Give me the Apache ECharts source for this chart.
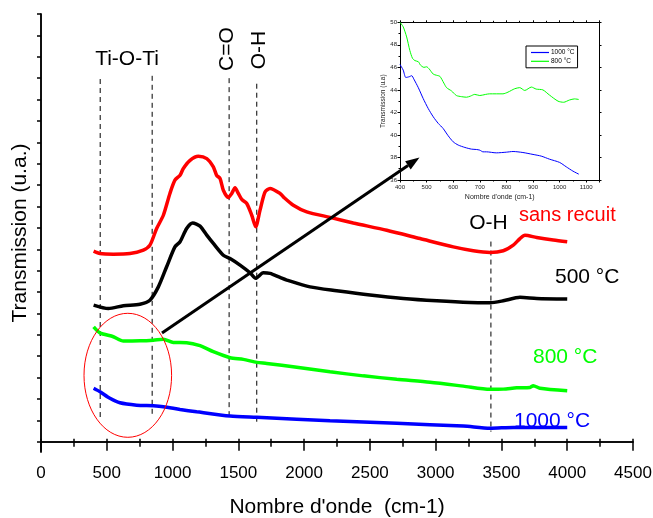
<!DOCTYPE html>
<html>
<head>
<meta charset="utf-8">
<script src="https://cdn.jsdelivr.net/npm/echarts@6/dist/echarts.min.js"></script>
<style>
  html, body { margin: 0; padding: 0; background: #fff; }
  #main { width: 653px; height: 518px; }
</style>
</head>
<body>
<div id="main"></div>
<script>
// spectres FTIR (valeurs en u.a., décalées verticalement)
const sansRecuit = [[400,8.91],[448,8.80],[550,8.77],[676,8.80],[778,8.96],[828,9.19],[879,9.97],[930,10.59],[980,11.61],[1018,12.23],[1057,12.46],[1082,12.78],[1133,13.16],[1196,13.35],[1260,13.24],[1310,12.85],[1335,12.46],[1361,12.31],[1386,11.76],[1424,11.42],[1450,11.61],[1475,11.87],[1500,11.61],[1526,11.33],[1564,11.14],[1602,10.59],[1632,10.05],[1665,10.83],[1703,11.68],[1741,11.84],[1817,11.61],[1842,11.45],[1918,11.06],[2020,10.75],[2197,10.49],[2374,10.23],[2628,9.89],[2881,9.50],[3134,9.11],[3286,8.93],[3413,8.85],[3514,8.93],[3590,9.19],[3641,9.50],[3679,9.66],[3768,9.55],[3894,9.43],[4000,9.35]];
const recuit500 = [[400,6.39],[512,6.23],[626,6.36],[752,6.43],[828,6.62],[892,7.24],[955,8.18],[1018,9.11],[1057,9.35],[1107,9.97],[1153,10.23],[1209,10.08],[1260,9.66],[1310,9.27],[1386,8.72],[1437,8.57],[1513,8.26],[1589,7.90],[1632,7.64],[1690,7.90],[1741,7.87],[1817,7.68],[1868,7.56],[2045,7.24],[2248,7.06],[2501,6.86],[2754,6.70],[3008,6.59],[3261,6.51],[3413,6.50],[3514,6.59],[3641,6.75],[3768,6.70],[4000,6.67]];
const recuit800 = [[400,5.37],[448,5.09],[550,4.91],[626,4.71],[752,4.72],[854,4.75],[930,4.79],[1006,4.64],[1107,4.63],[1209,4.49],[1310,4.21],[1437,3.93],[1538,3.85],[1640,3.71],[1716,3.66],[1944,3.48],[2197,3.27],[2450,3.08],[2704,2.92],[2957,2.78],[3210,2.60],[3413,2.45],[3514,2.46],[3616,2.52],[3717,2.54],[3742,2.62],[3793,2.50],[4000,2.38]];
const recuit1000 = [[400,2.50],[448,2.34],[524,2.03],[600,1.82],[727,1.71],[854,1.68],[930,1.64],[1057,1.51],[1183,1.40],[1437,1.20],[1640,1.14],[1944,1.05],[2197,0.98],[2704,0.86],[3210,0.73],[3413,0.63],[3590,0.67],[4000,0.67]];

// zoom 400-1100 cm-1
const zoom800 = [[400,50.0],[412,49.6],[425,48.7],[437,47.5],[447,46.8],[456,46.6],[469,46.5],[477,46.2],[490,46.0],[500,46.05],[510,45.85],[525,45.4],[537,45.3],[550,45.2],[565,44.6],[575,44.2],[594,43.9],[612,43.5],[631,43.4],[650,43.35],[665,43.45],[681,43.6],[700,43.5],[722,43.6],[737,43.65],[787,43.65],[806,43.8],[831,44.1],[850,44.2],[869,43.95],[894,44.25],[912,44.07],[937,44.0],[962,43.54],[994,43.0],[1015,42.9],[1037,43.1],[1056,43.2],[1072,43.15]];
const zoom1000 = [[400,46.26],[412,45.76],[422,45.1],[435,45.17],[444,45.26],[452,44.96],[469,44.19],[487,43.24],[506,42.35],[525,41.61],[544,41.02],[562,40.58],[581,39.93],[600,39.39],[619,39.1],[644,38.89],[669,38.74],[687,38.71],[700,38.65],[712,38.5],[725,38.5],[762,38.41],[800,38.47],[825,38.53],[862,38.44],[900,38.27],[931,38.12],[962,37.85],[1000,37.56],[1025,37.17],[1050,36.79],[1072,36.52]];

// bandes (position, haut, bas)
const bandes = [[450,16.96,1.10],[845,17.11,1.25],[1430,17.0,1.14],[1640,16.74,0.86],[3420,9.36,0.47]];
const yTicks = [0,1,2,3,4,5,6,7,8,9,10,11,12,13,14,15,16,17,18,19,20];

const font = 'Liberation Sans, Arial, sans-serif';
const black = '#000';
const plain = v => String(v);

const chart = echarts.init(document.getElementById('main'));

function curve(name, data, color, width, xi, yi) {
  return {
    name: name,
    type: 'line',
    xAxisIndex: xi,
    yAxisIndex: yi,
    data: data,
    symbol: 'none',
    smooth: 0.25,
    lineStyle: { color: color, width: width },
    itemStyle: { color: color },
    z: 3
  };
}

const series = [
  curve('sans recuit', sansRecuit, '#ff0000', 3.5, 0, 0),
  curve('500', recuit500, '#000000', 3.5, 0, 0),
  curve('800', recuit800, '#00ff00', 3.5, 0, 0),
  curve('1000', recuit1000, '#0000ff', 3.5, 0, 0),
  curve('1000 °C', zoom1000, '#0000ff', 1, 2, 2),
  curve('800 °C', zoom800, '#00ff00', 1, 2, 2)
];
bandes.forEach(b => {
  series.push({
    type: 'line',
    xAxisIndex: 0,
    yAxisIndex: 0,
    data: [[b[0], b[1]], [b[0], b[2]]],
    symbol: 'none',
    silent: true,
    lineStyle: { color: black, width: 1, type: [5, 4] },
    z: 2
  });
});

const option = {
  animation: false,
  backgroundColor: '#fff',
  textStyle: { fontFamily: font, color: black },
  grid: [
    { left: 41, right: 20, top: 14, bottom: 66, outerBoundsMode: 'none' },
    { left: 400, right: 53.5, top: 22.3, bottom: 338, outerBoundsMode: 'none' }
  ],
  legend: {
    data: ['1000 °C', '800 °C'],
    left: 526,
    top: 46,
    orient: 'vertical',
    icon: 'rect',
    itemWidth: 18,
    itemHeight: 1.2,
    itemGap: 1.8,
    padding: [3, 3, 3, 5],
    borderColor: black,
    borderWidth: 1,
    textStyle: { fontSize: 6.5, fontFamily: font, color: black, padding: [0, 0, 0, -3] }
  },
  xAxis: [
    {
      gridIndex: 0, type: 'value', position: 'bottom',
      min: 0, max: 4500, interval: 500,
      name: "Nombre d'onde  (cm-1)", nameLocation: 'middle', nameGap: 45,
      nameTextStyle: { fontSize: 21, fontFamily: font, color: black },
      axisLine: { lineStyle: { color: black, width: 1.5 } },
      axisTick: { length: 9, lineStyle: { color: black, width: 1.5 } },
      minorTick: { show: true, splitNumber: 2, length: 5, lineStyle: { color: black, width: 1.5 } },
      axisLabel: { fontSize: 17, color: black, margin: 13, fontFamily: font, formatter: plain },
      splitLine: { show: false }
    },
    {
      gridIndex: 0, type: 'value', position: 'top',
      min: 0, max: 4500, interval: 250,
      axisLine: { lineStyle: { color: black, width: 1.5 } },
      axisTick: { length: 3, lineStyle: { color: black, width: 1.5 } },
      axisLabel: { show: false },
      splitLine: { show: false }
    },
    {
      gridIndex: 1, type: 'value', position: 'bottom',
      min: 400, max: 1150, interval: 100,
      name: "Nombre d'onde (cm-1)", nameLocation: 'middle', nameGap: 14,
      nameTextStyle: { fontSize: 7, fontFamily: font, color: '#222' },
      axisLine: { lineStyle: { color: black, width: 1 } },
      axisTick: { length: 2.5, lineStyle: { color: black, width: 1 } },
      minorTick: { show: true, splitNumber: 2, length: 1.5, lineStyle: { color: black, width: 1 } },
      axisLabel: { fontSize: 6, color: '#222', margin: 4, fontFamily: font, formatter: plain, showMaxLabel: false },
      splitLine: { show: false }
    },
    {
      gridIndex: 1, type: 'value', position: 'top',
      min: 400, max: 1150, interval: 100,
      axisLine: { lineStyle: { color: black, width: 1 } },
      axisTick: { length: 2, lineStyle: { color: black, width: 1 } },
      minorTick: { show: true, splitNumber: 2, length: 1.5, lineStyle: { color: black, width: 1 } },
      axisLabel: { show: false },
      splitLine: { show: false }
    }
  ],
  yAxis: [
    {
      gridIndex: 0, type: 'value', position: 'left',
      min: -0.48, max: 20,
      name: 'Transmission (u.a.)', nameLocation: 'middle', nameGap: 10,
      nameTextStyle: { fontSize: 21, fontFamily: font, color: black },
      axisLine: { show: true, lineStyle: { color: black, width: 1.5 } },
      axisTick: { show: true, length: 4, customValues: yTicks, lineStyle: { color: black, width: 1.5 } },
      axisLabel: { show: false },
      splitLine: { show: false }
    },
    {
      gridIndex: 0, type: 'value', position: 'right',
      min: -0.48, max: 20,
      axisLine: { show: true, lineStyle: { color: black, width: 1.5 } },
      axisTick: { show: true, inside: true, length: 3, customValues: yTicks, lineStyle: { color: black, width: 1.5 } },
      axisLabel: { show: false },
      splitLine: { show: false }
    },
    {
      gridIndex: 1, type: 'value', position: 'left',
      min: 36, max: 50, interval: 2,
      name: 'Transmission (u.a)', nameLocation: 'middle', nameGap: 13,
      nameTextStyle: { fontSize: 6.5, fontFamily: font, color: '#222' },
      axisLine: { show: true, lineStyle: { color: black, width: 1 } },
      axisTick: { length: 2.5, lineStyle: { color: black, width: 1 } },
      minorTick: { show: true, splitNumber: 2, length: 1.5, lineStyle: { color: black, width: 1 } },
      axisLabel: { fontSize: 6, color: '#222', margin: 3, fontFamily: font },
      splitLine: { show: false }
    },
    {
      gridIndex: 1, type: 'value', position: 'right',
      min: 36, max: 50, interval: 2,
      axisLine: { show: true, lineStyle: { color: black, width: 1 } },
      axisTick: { length: 2, lineStyle: { color: black, width: 1 } },
      axisLabel: { show: false },
      splitLine: { show: false }
    }
  ],
  graphic: [
    { type: 'ellipse', shape: { cx: 127.8, cy: 375.3, rx: 43.8, ry: 62 }, style: { fill: null, stroke: '#ff0000', lineWidth: 1 }, z: 10 },
    { type: 'line', shape: { x1: 162, y1: 333, x2: 408, y2: 165.4 }, style: { stroke: black, lineWidth: 3 }, z: 10 },
    { type: 'polygon', shape: { points: [[419.5, 157.5], [410.7, 169.5], [405.1, 161.3]] }, style: { fill: black }, z: 10 },
    { type: 'text', x: 127, y: 59, style: { text: 'Ti-O-Ti', fontSize: 21, fontFamily: font, fill: black, align: 'center', verticalAlign: 'middle' }, z: 10 },
    { type: 'text', x: 227, y: 49, rotation: Math.PI / 2, style: { text: 'C=O', fontSize: 21, fontFamily: font, fill: black, align: 'center', verticalAlign: 'middle' }, z: 10 },
    { type: 'text', x: 259.5, y: 50, rotation: Math.PI / 2, style: { text: 'O-H', fontSize: 21, fontFamily: font, fill: black, align: 'center', verticalAlign: 'middle' }, z: 10 },
    { type: 'text', x: 488.5, y: 223, style: { text: 'O-H', fontSize: 21, fontFamily: font, fill: black, align: 'center', verticalAlign: 'middle' }, z: 10 },
    { type: 'text', x: 519, y: 215, style: { text: 'sans recuit', fontSize: 20, fontFamily: font, fill: '#ff0000', align: 'left', verticalAlign: 'middle' }, z: 10 },
    { type: 'text', x: 555, y: 277, style: { text: '500 °C', fontSize: 21, fontFamily: font, fill: black, align: 'left', verticalAlign: 'middle' }, z: 10 },
    { type: 'text', x: 533, y: 357, style: { text: '800 °C', fontSize: 21, fontFamily: font, fill: '#00ff00', align: 'left', verticalAlign: 'middle' }, z: 10 },
    { type: 'text', x: 514, y: 421, style: { text: '1000 °C', fontSize: 21, fontFamily: font, fill: '#0000ff', align: 'left', verticalAlign: 'middle' }, z: 10 }
  ],
  series: series
};

chart.setOption(option);
</script>
</body>
</html>
